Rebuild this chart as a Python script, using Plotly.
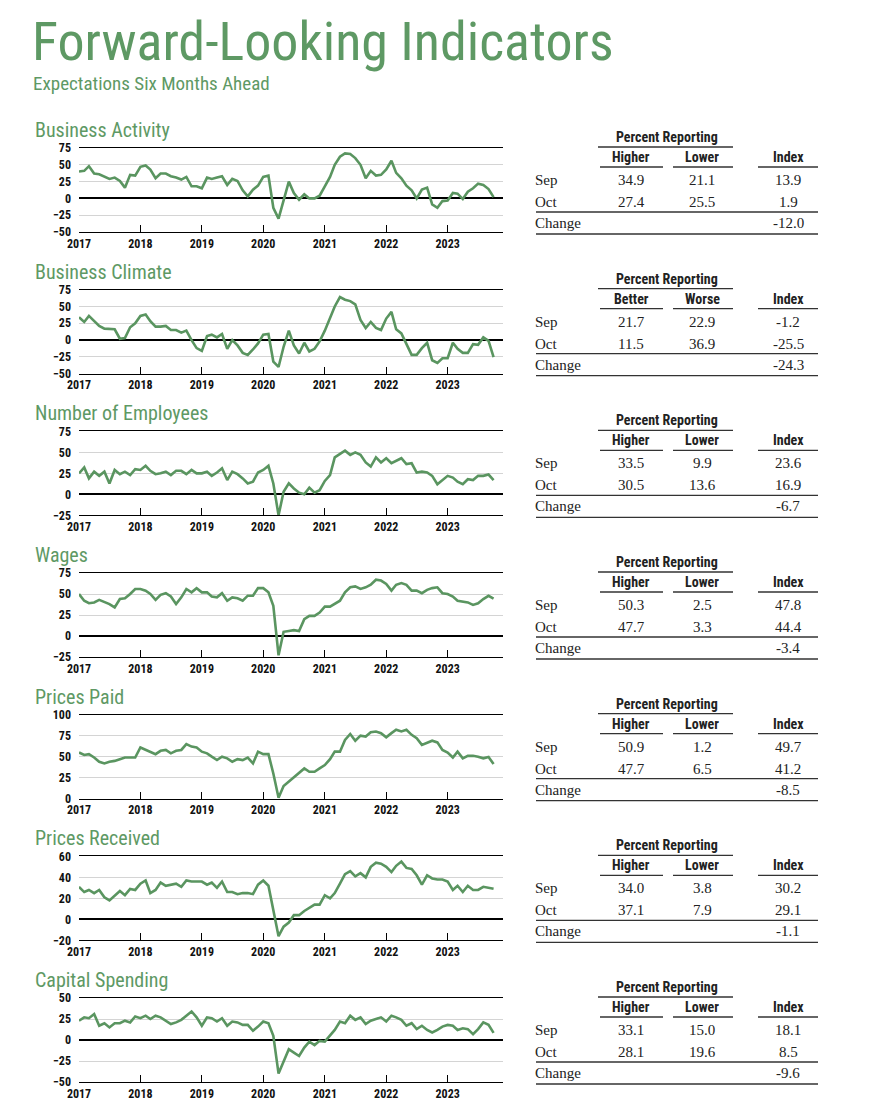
import pandas as pd
import plotly.graph_objects as go

# ---------------- DATA ----------------
months = pd.date_range("2017-01-01", "2023-10-01", freq="MS")

panel_titles = ["Business Activity", "Business Climate", "Number of Employees", "Wages",
                "Prices Paid", "Prices Received", "Capital Spending"]

business_activity = [
    40, 41, 48, 37, 36, 32, 29, 31, 26, 16, 35, 34,
    47, 49, 43, 30, 37, 37, 33, 31, 28, 32, 18, 18,
    15, 31, 29, 31, 33, 20, 29, 26, 12, 3, 13, 19,
    32, 34, -14, -30, -2, 25, 8, -2, 6, 0, 0, 4,
    18, 32, 50, 62, 67, 66, 60, 50, 30, 41, 34, 35,
    43, 56, 38, 30, 19, 12, 0, 13, 16, -9, -14, -4,
    -3, 8, 7, -1, 10, 15, 22, 20, 13.9, 1.9]

business_climate = [
    34, 27, 36, 28, 21, 17, 17, 16, 2, 3, 19, 25,
    36, 38, 28, 20, 20, 21, 15, 15, 11, 14, 0, -12,
    -16, 6, 8, 4, 9, -13, 0, -8, -19, -22, -14, -5,
    8, 9, -32, -40, -10, 14, -8, -20, -4, -17, -13, -2,
    14, 32, 50, 64, 60, 58, 53, 30, 18, 27, 18, 15,
    32, 42, 16, 10, -5, -22, -22, -12, -4, -30, -34, -27,
    -27, -4, -13, -19, -19, -6, -7, 4, -1.2, -25.5]

number_of_employees = [
    25, 32, 19, 27, 22, 27, 13, 29, 24, 27, 23, 30,
    29, 34, 28, 24, 25, 27, 23, 28, 28, 24, 29, 25,
    25, 27, 22, 26, 31, 17, 27, 24, 19, 13, 15, 26,
    29, 34, 13, -25, 3, 13, 7, 2, 0, 8, 2, 5,
    16, 23, 44, 48, 52, 47, 50, 47, 38, 33, 44, 38,
    43, 37, 40, 43, 36, 37, 26, 27, 26, 22, 12, 17,
    22, 20, 15, 12, 18, 17, 22, 22, 23.6, 16.9]

wages = [
    50, 42, 39, 40, 43, 40, 38, 34, 44, 45, 50, 56,
    56, 54, 50, 43, 49, 51, 47, 38, 46, 56, 52, 57,
    52, 52, 47, 46, 51, 42, 46, 45, 42, 48, 48, 57,
    57, 52, 36, -23, 5, 6, 7, 6, 20, 24, 24, 28,
    35, 35, 38, 42, 52, 58, 59, 56, 58, 61, 67, 66,
    62, 54, 61, 63, 61, 54, 54, 51, 55, 57, 58, 51,
    50, 47, 42, 41, 40, 37, 39, 44, 47.8, 44.4]

prices_paid = [
    55, 52, 53, 49, 44, 42, 44, 45, 47, 49, 49, 49,
    61, 58, 56, 53, 57, 58, 54, 57, 58, 65, 62, 61,
    56, 54, 50, 46, 50, 48, 44, 47, 46, 49, 42, 56,
    53, 53, 30, 1, 15, 20, 25, 30, 36, 32, 32, 36,
    40, 47, 56, 56, 70, 77, 69, 75, 74, 79, 80, 78,
    73, 78, 82, 80, 82, 76, 72, 64, 67, 69, 67, 58,
    55, 49, 56, 48, 51, 51, 50, 48, 49.7, 41.2]

prices_received = [
    31, 26, 28, 25, 28, 21, 18, 23, 27, 23, 29, 28,
    34, 37, 25, 28, 35, 32, 33, 34, 31, 37, 36, 36,
    36, 33, 35, 30, 36, 26, 26, 24, 25, 25, 24, 33,
    37, 32, 10, -16, -7, -3, 4, 4, 8, 11, 14, 14,
    23, 20, 25, 34, 43, 46, 41, 44, 40, 50, 54, 53,
    50, 45, 51, 55, 49, 48, 42, 33, 42, 39, 38, 38,
    36, 28, 32, 26, 32, 28, 28, 31, 30.2, 29.1]

capital_spending = [
    23, 27, 26, 31, 17, 20, 15, 20, 20, 23, 21, 28,
    26, 29, 25, 29, 27, 23, 19, 21, 24, 29, 34, 27,
    17, 27, 26, 22, 26, 17, 22, 21, 18, 18, 11, 16,
    22, 20, 5, -40, -25, -11, -15, -19, -9, -2, -6, -1,
    -2, 6, 12, 22, 20, 29, 24, 27, 19, 23, 25, 27,
    22, 29, 27, 24, 17, 20, 13, 17, 12, 9, 12, 16,
    18, 17, 12, 14, 13, 7, 13, 21, 18.1, 8.5]

series = [business_activity, business_climate, number_of_employees, wages,
          prices_paid, prices_received, capital_spending]

y_ranges = [(-50, 75), (-50, 75), (-25, 75), (-25, 75), (0, 100), (-20, 60), (-50, 50)]
y_dticks = [25, 25, 25, 25, 25, 20, 25]

col_labels = [("Higher", "Lower"), ("Better", "Worse"), ("Higher", "Lower"), ("Higher", "Lower"),
              ("Higher", "Lower"), ("Higher", "Lower"), ("Higher", "Lower")]
sep_higher = [34.9, 21.7, 33.5, 50.3, 50.9, 34.0, 33.1]
sep_lower = [21.1, 22.9, 9.9, 2.5, 1.2, 3.8, 15.0]
sep_index = [13.9, -1.2, 23.6, 47.8, 49.7, 30.2, 18.1]
oct_higher = [27.4, 11.5, 30.5, 47.7, 47.7, 37.1, 28.1]
oct_lower = [25.5, 36.9, 13.6, 3.3, 6.5, 7.9, 19.6]
oct_index = [1.9, -25.5, 16.9, 44.4, 41.2, 29.1, 8.5]
change_index = [-12.0, -24.3, -6.7, -3.4, -8.5, -1.1, -9.6]

# ---------------- STYLE ----------------
W, H = 877, 1113
PAGE_OFF = 8  # body margin of the page
GREEN = "#5e9964"
LINE_GREEN = "#5a9560"
COND = "Roboto Condensed, Open Sans Condensed, Roboto, sans-serif"
SERIF = "Liberation Serif, DejaVu Serif, serif"
STEP = 141.67


def px(x):
    return (x - PAGE_OFF) / W


def py(y):
    return 1 - (y - PAGE_OFF) / H


fig = go.Figure()
annotations = []
shapes = []

for i, (title, vals) in enumerate(zip(panel_titles, series)):
    off = STEP * i
    n = i + 1
    xa = "x" if n == 1 else f"x{n}"
    ya = "y" if n == 1 else f"y{n}"
    fig.add_trace(go.Scatter(x=months, y=vals, mode="lines", xaxis=xa, yaxis=ya,
                             line=dict(color=LINE_GREEN, width=2.6), showlegend=False,
                             hoverinfo="skip"))
    top, bot = 148 + off, 232 + off
    fig.layout[f"xaxis{'' if n == 1 else n}"] = dict(
        domain=[px(79), px(503)], anchor=ya, range=["2017-01-01", "2023-11-26"],
        tick0="2017-01-01", dtick="M12", tickformat="%Y", ticks="inside", ticklen=7,
        tickwidth=1.2, tickcolor="#000", showline=True, linecolor="#000", linewidth=1.2,
        mirror=True, showgrid=False, zeroline=False, automargin=False,
        tickfont=dict(family=COND, size=12, color="#111", weight="bold"))
    lo, hi = y_ranges[i]
    fig.layout[f"yaxis{'' if n == 1 else n}"] = dict(
        domain=[py(bot), py(top)], anchor=xa, range=[lo, hi], dtick=y_dticks[i], tick0=lo,
        showgrid=True, gridcolor="#d4d4d4", gridwidth=1, zeroline=True,
        zerolinecolor="#000", zerolinewidth=2, showline=False, ticks="",
        ticklabelstandoff=7, automargin=False,
        tickfont=dict(family=COND, size=12, color="#111", weight="bold"))

    # panel title
    annotations.append(dict(x=px(33), y=py(130 + off), xref="paper", yref="paper",
                            text=title, showarrow=False, xanchor="left", yanchor="middle",
                            font=dict(family=COND, size=20, color=GREEN)))

    # table
    hdr = dict(family=COND, size=14, color="#222", weight="bold")
    body = dict(family=SERIF, size=15, color="#222")
    annotations.append(dict(x=px(667), y=py(137 + off), xref="paper", yref="paper",
                            text="Percent Reporting", showarrow=False, font=hdr,
                            xanchor="center", yanchor="middle"))
    for cx, lab in zip((631, 702, 788), (col_labels[i][0], col_labels[i][1], "Index")):
        annotations.append(dict(x=px(cx), y=py(157 + off), xref="paper", yref="paper",
                                text=lab, showarrow=False, font=hdr,
                                xanchor="center", yanchor="middle"))
    rows = [("Sep", sep_higher[i], sep_lower[i], sep_index[i], 180),
            ("Oct", oct_higher[i], oct_lower[i], oct_index[i], 202)]
    for lab, a, b, c, ry in rows:
        annotations.append(dict(x=px(533), y=py(ry + off), xref="paper", yref="paper",
                                text=lab, showarrow=False, font=body,
                                xanchor="left", yanchor="middle"))
        for cx, v in zip((631, 702, 788), (a, b, c)):
            annotations.append(dict(x=px(cx), y=py(ry + off), xref="paper", yref="paper",
                                    text=f"{v:.1f}", showarrow=False, font=body,
                                    xanchor="center", yanchor="middle"))
    annotations.append(dict(x=px(533), y=py(223 + off), xref="paper", yref="paper",
                            text="Change", showarrow=False, font=body,
                            xanchor="left", yanchor="middle"))
    annotations.append(dict(x=px(788), y=py(223 + off), xref="paper", yref="paper",
                            text=f"{change_index[i]:.1f}", showarrow=False, font=body,
                            xanchor="center", yanchor="middle"))
    ln = dict(color="#333", width=1.3)
    for x0, x1, yy in [(598, 733, 147), (600, 663, 167), (673, 733, 167), (758, 818, 167),
                       (536, 818, 212), (536, 818, 234)]:
        shapes.append(dict(type="line", xref="paper", yref="paper",
                           x0=px(x0), x1=px(x1), y0=py(yy + off), y1=py(yy + off), line=ln))

annotations.append(dict(x=px(30), y=py(42), xref="paper", yref="paper",
                        text="Forward-Looking Indicators", showarrow=False,
                        xanchor="left", yanchor="middle",
                        font=dict(family=COND, size=54, color=GREEN)))
annotations.append(dict(x=px(31), y=py(84), xref="paper", yref="paper",
                        text="Expectations Six Months Ahead", showarrow=False,
                        xanchor="left", yanchor="middle",
                        font=dict(family=COND, size=19, color=GREEN)))

fig.update_layout(width=W, height=H, margin=dict(l=0, r=0, t=0, b=0),
                  paper_bgcolor="white", plot_bgcolor="white",
                  annotations=annotations, shapes=shapes)

fig.write_html("out.html")
